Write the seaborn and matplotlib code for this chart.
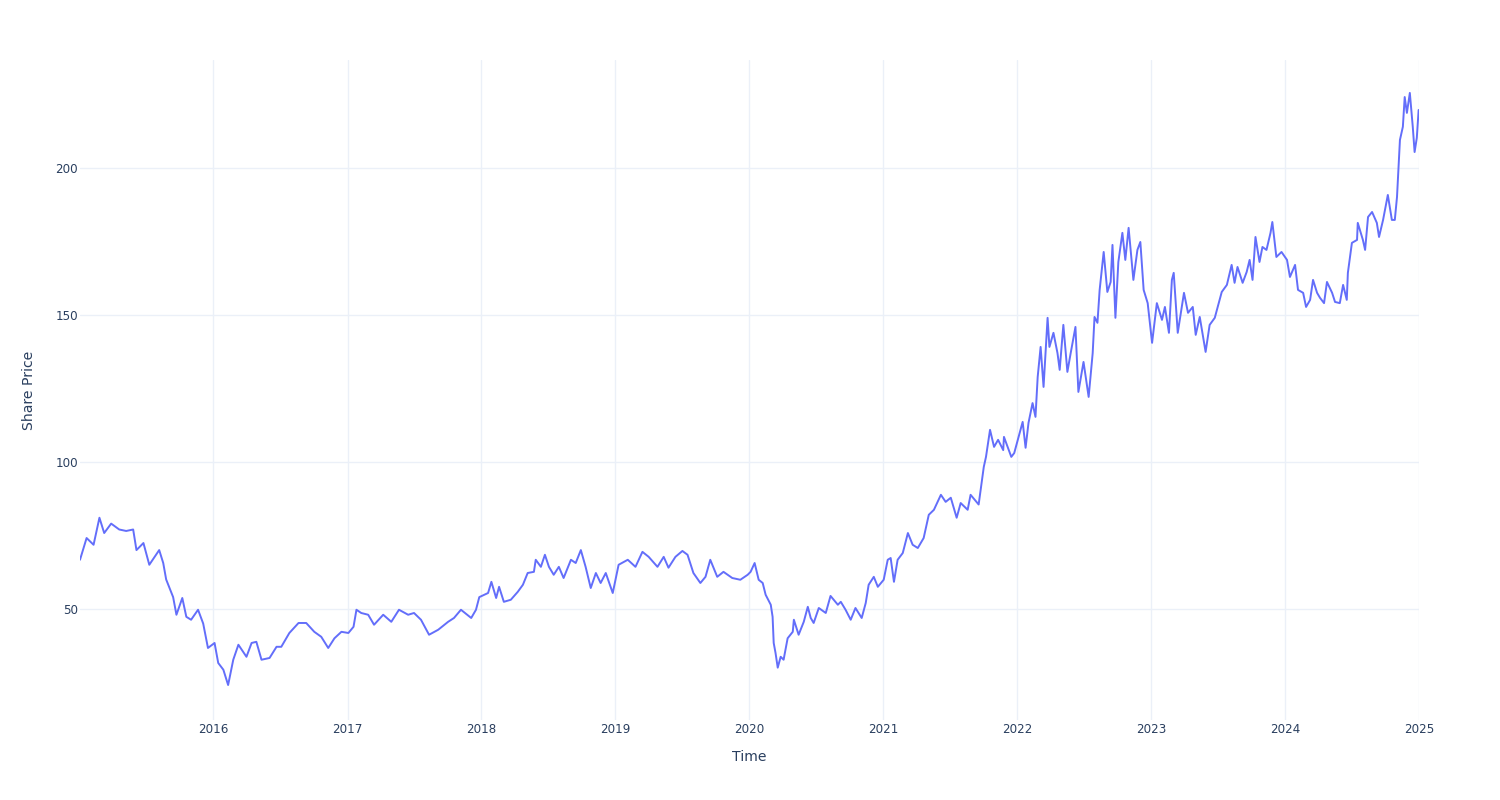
import matplotlib
matplotlib.use("Agg")
import matplotlib.pyplot as plt
import pandas as pd
import seaborn as sns

# ---- data ----
dates = [
    "2015-01-02", "2015-01-20", "2015-02-08", "2015-02-24", "2015-03-09", "2015-03-28",
    "2015-04-19", "2015-05-08", "2015-05-27", "2015-06-05", "2015-06-24", "2015-07-10",
    "2015-08-06", "2015-08-17", "2015-08-25", "2015-09-13", "2015-09-22", "2015-10-08",
    "2015-10-19", "2015-11-01", "2015-11-20", "2015-12-04", "2015-12-17",
    "2016-01-04", "2016-01-14", "2016-01-28", "2016-02-10", "2016-02-24", "2016-03-09",
    "2016-03-31", "2016-04-14", "2016-04-27", "2016-05-11", "2016-06-02", "2016-06-21",
    "2016-07-04", "2016-07-26", "2016-08-20", "2016-09-10", "2016-10-02", "2016-10-21",
    "2016-11-09", "2016-11-26", "2016-12-15",
    "2017-01-03", "2017-01-17", "2017-01-25", "2017-02-07", "2017-02-26", "2017-03-14",
    "2017-04-08", "2017-04-30", "2017-05-21", "2017-06-15", "2017-07-01", "2017-07-20",
    "2017-08-11", "2017-09-05", "2017-10-02", "2017-10-18", "2017-11-06", "2017-12-04",
    "2017-12-17", "2017-12-26",
    "2018-01-19", "2018-01-28", "2018-02-10", "2018-02-18", "2018-03-03", "2018-03-22",
    "2018-04-10", "2018-04-24", "2018-05-07", "2018-05-24", "2018-05-29", "2018-06-12",
    "2018-06-23", "2018-07-04", "2018-07-17", "2018-07-31", "2018-08-13", "2018-09-02",
    "2018-09-15", "2018-09-29", "2018-10-12", "2018-10-26", "2018-11-09", "2018-11-22",
    "2018-12-06", "2018-12-25",
    "2019-01-10", "2019-02-04", "2019-02-25", "2019-03-16", "2019-04-02", "2019-04-26",
    "2019-05-13", "2019-05-26", "2019-06-14", "2019-07-03", "2019-07-17", "2019-08-02",
    "2019-08-21", "2019-09-04", "2019-09-17", "2019-10-06", "2019-10-23", "2019-11-16",
    "2019-12-08", "2019-12-28",
    "2020-01-05", "2020-01-16", "2020-01-27", "2020-02-07", "2020-02-15", "2020-02-29",
    "2020-03-05", "2020-03-08", "2020-03-13", "2020-03-19", "2020-03-27", "2020-04-04",
    "2020-04-15", "2020-04-29", "2020-05-02", "2020-05-15", "2020-05-29", "2020-06-09",
    "2020-06-17", "2020-06-25", "2020-07-09", "2020-07-28", "2020-08-10", "2020-08-30",
    "2020-09-07", "2020-09-20", "2020-10-04", "2020-10-17", "2020-11-03", "2020-11-14",
    "2020-11-22", "2020-12-06", "2020-12-17",
    "2021-01-02", "2021-01-13", "2021-01-21", "2021-01-30", "2021-02-09", "2021-02-23",
    "2021-03-09", "2021-03-22", "2021-04-05", "2021-04-21", "2021-05-05", "2021-05-19",
    "2021-06-07", "2021-06-20", "2021-07-04", "2021-07-20", "2021-07-31", "2021-08-19",
    "2021-08-27", "2021-09-18", "2021-10-02", "2021-10-08", "2021-10-19", "2021-10-30",
    "2021-11-10", "2021-11-24", "2021-11-26", "2021-12-16", "2021-12-24",
    "2022-01-05", "2022-01-16", "2022-01-24", "2022-02-01", "2022-02-12", "2022-02-20",
    "2022-02-26", "2022-03-06", "2022-03-14", "2022-03-25", "2022-03-30", "2022-04-10",
    "2022-04-21", "2022-04-27", "2022-05-07", "2022-05-18", "2022-05-27", "2022-06-09",
    "2022-06-17", "2022-07-01", "2022-07-15", "2022-07-26", "2022-07-31", "2022-08-08",
    "2022-08-14", "2022-08-25", "2022-09-04", "2022-09-13", "2022-09-18", "2022-09-26",
    "2022-10-04", "2022-10-15", "2022-10-23", "2022-11-01", "2022-11-14", "2022-11-25",
    "2022-12-03", "2022-12-12", "2022-12-23",
    "2023-01-04", "2023-01-17", "2023-01-31", "2023-02-08", "2023-02-19", "2023-02-27",
    "2023-03-04", "2023-03-15", "2023-04-01", "2023-04-12", "2023-04-25", "2023-05-03",
    "2023-05-14", "2023-05-30", "2023-06-10", "2023-06-24", "2023-07-02", "2023-07-13",
    "2023-07-27", "2023-08-09", "2023-08-17", "2023-08-25", "2023-09-08", "2023-09-19",
    "2023-09-27", "2023-10-05", "2023-10-13", "2023-10-24", "2023-11-01", "2023-11-12",
    "2023-11-23", "2023-11-28", "2023-12-09", "2023-12-23",
    "2024-01-07", "2024-01-15", "2024-01-29", "2024-02-06", "2024-02-20", "2024-02-28",
    "2024-03-10", "2024-03-18", "2024-03-29", "2024-04-06", "2024-04-17", "2024-04-25",
    "2024-05-09", "2024-05-17", "2024-05-30", "2024-06-08", "2024-06-18", "2024-06-21",
    "2024-07-02", "2024-07-16", "2024-07-18", "2024-08-01", "2024-08-07", "2024-08-15",
    "2024-08-26", "2024-09-08", "2024-09-14", "2024-09-25", "2024-10-08", "2024-10-19",
    "2024-10-27", "2024-11-02", "2024-11-10", "2024-11-18", "2024-11-23", "2024-11-29",
    "2024-12-07", "2024-12-15", "2024-12-20", "2024-12-26", "2024-12-31",
]
prices = [
    66.7, 74.1, 71.8, 81.0, 75.8, 79.0,
    77.0, 76.5, 77.0, 70.0, 72.4, 65.0,
    70.0, 65.6, 60.0, 54.0, 48.0, 53.7,
    47.3, 46.3, 49.7, 45.0, 36.7,
    38.4, 31.6, 29.3, 24.1, 32.7, 37.8,
    33.7, 38.4, 38.8, 32.7, 33.3, 37.1,
    37.1, 41.8, 45.2, 45.2, 42.2, 40.5,
    36.7, 40.0, 42.2,
    41.8, 43.9, 49.7, 48.6, 48.0, 44.6,
    48.0, 45.6, 49.7, 48.0, 48.6, 46.3,
    41.2, 42.9, 45.6, 46.9, 49.7, 46.9,
    49.7, 54.0,
    55.4, 59.2, 53.7, 57.5, 52.4, 53.1,
    55.8, 58.2, 62.2, 62.6, 66.7, 64.3,
    68.4, 64.3, 61.6, 64.3, 60.5, 66.7,
    65.6, 70.0, 64.3, 57.1, 62.2, 58.8,
    62.2, 55.4,
    65.0, 66.7, 64.3, 69.4, 67.7, 64.3,
    67.7, 64.0, 67.7, 69.7, 68.4, 62.2,
    58.8, 60.9, 66.7, 60.9, 62.6, 60.5,
    59.9, 61.6,
    62.6, 65.6, 59.9, 58.8, 54.8, 51.4,
    47.3, 38.4, 35.0, 30.0, 33.7, 32.7,
    40.0, 42.2, 46.3, 41.2, 45.6, 50.7,
    46.9, 45.2, 50.3, 48.6, 54.4, 51.4,
    52.4, 49.7, 46.3, 50.3, 46.9, 52.0,
    58.2, 60.9, 57.5,
    59.9, 66.7, 67.3, 59.2, 66.7, 69.0,
    75.8, 71.8, 70.7, 74.1, 82.0, 83.7,
    88.8, 86.4, 87.8, 81.0, 86.0, 83.7,
    88.8, 85.5, 98.3, 101.7, 110.9, 105.1,
    107.5, 104.0, 108.5, 101.7, 103.0,
    108.5, 113.6, 104.8, 113.3, 120.0, 115.3,
    128.9, 139.1, 125.5, 149.0, 139.1, 143.9,
    137.0, 131.3, 146.6, 130.6, 137.0, 145.9,
    123.8, 134.0, 122.1, 137.0, 149.3, 147.3,
    158.5, 171.4, 157.8, 161.2, 173.8, 149.0,
    168.0, 177.9, 168.7, 179.6, 161.9, 172.1,
    174.8, 158.5, 154.0,
    140.5, 154.0, 148.3, 152.7, 143.9, 161.9,
    164.3, 143.9, 157.5, 150.7, 152.7, 143.2,
    149.3, 137.4, 146.6, 149.0, 152.7, 157.8,
    160.2, 167.0, 160.9, 166.3, 160.9, 164.6,
    168.7, 161.9, 176.5, 168.0, 173.1, 172.1,
    177.9, 181.6, 169.7, 171.4,
    168.7, 162.9, 167.0, 158.5, 157.5, 152.7,
    155.1, 161.9, 157.5, 155.8, 154.0, 161.2,
    157.5, 154.4, 154.0, 160.2, 155.1, 164.3,
    174.5, 175.5, 181.3, 175.5, 172.1, 183.3,
    185.0, 181.3, 176.5, 182.3, 190.8, 182.3,
    182.3, 190.1, 209.5, 214.0, 224.1, 218.7,
    225.5, 214.0, 205.4, 210.2, 219.7,
]
x_ticks = ["2016", "2017", "2018", "2019", "2020", "2021", "2022", "2023", "2024", "2025"]
y_ticks = [50, 100, 150, 200]
x_title = "Time"
y_title = "Share Price"

df = pd.DataFrame({"Time": pd.to_datetime(dates), "Share Price": prices})

# ---- styling ----
sns.set_theme(style="white")
plt.rcParams["font.family"] = ["DejaVu Sans"]
text_color = "#2a3f5f"
grid_color = "#EBF0F8"

fig = plt.figure(figsize=(15, 8), dpi=100)
ax = fig.add_axes([80 / 1500, 1 - 720 / 800, (1419 - 80) / 1500, 660 / 800])

sns.lineplot(data=df, x="Time", y="Share Price", ax=ax, color="#636EFA", linewidth=1.4)

ax.set_xlim(df["Time"].min(), df["Time"].max())
ax.set_ylim(12.2, 236.7)

tick_dates = pd.to_datetime([f"{t}-01-01" for t in x_ticks])
ax.set_xticks(tick_dates)
ax.set_xticklabels(x_ticks)
ax.set_yticks(y_ticks)
ax.set_yticklabels([str(v) for v in y_ticks])

ax.grid(True, color=grid_color, linewidth=1)
ax.set_axisbelow(True)
for s in ax.spines.values():
    s.set_visible(False)
ax.tick_params(axis="both", length=0, labelsize=8.6, colors=text_color)
ax.tick_params(axis="x", pad=2)
ax.tick_params(axis="y", pad=1.5)

ax.set_xlabel(x_title, fontsize=10.1, color=text_color, labelpad=10.5)
ax.set_ylabel(y_title, fontsize=10.1, color=text_color, labelpad=14)

fig.savefig("out.png", dpi=100, facecolor="white")
